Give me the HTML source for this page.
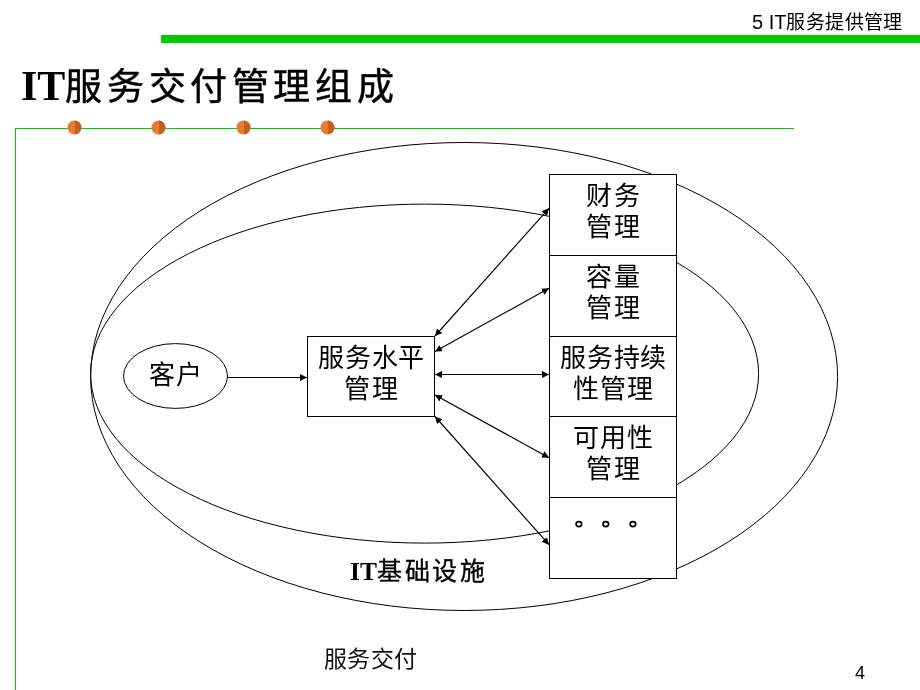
<!DOCTYPE html>
<html lang="zh-CN">
<head>
<meta charset="utf-8">
<style>
html,body{margin:0;padding:0;background:#fff;}
body{width:920px;height:690px;overflow:hidden;position:relative;-webkit-font-smoothing:antialiased;font-family:"Liberation Serif",serif;color:#000;}
svg{position:absolute;left:0;top:0;}
.t{position:absolute;white-space:nowrap;line-height:1;filter:grayscale(1);}
.hdr{font-family:"Liberation Sans",sans-serif;font-size:20px;left:752px;top:12px;}
.hdr .c{font-size:19px;letter-spacing:0.4px;font-weight:300;}
.title{font-family:"Liberation Serif",serif;font-weight:bold;font-size:42px;left:21px;top:65px;}
.title .c{font-size:37px;letter-spacing:4.6px;font-weight:500;-webkit-text-stroke:0.5px #000;}
.box{position:absolute;text-align:center;font-family:"Liberation Serif",serif;font-size:26px;line-height:31px;letter-spacing:1.35px;padding-left:1.35px;box-sizing:border-box;filter:grayscale(1);}
.infra{font-family:"Liberation Serif",serif;font-weight:bold;font-size:25.5px;left:350px;top:559px;}
.infra .c{font-size:25px;letter-spacing:2.7px;position:relative;top:0px;font-weight:500;-webkit-text-stroke:0.35px #000;}
.foot{font-family:"Liberation Sans",sans-serif;font-size:23px;letter-spacing:0.3px;left:324px;top:648px;color:#111;font-weight:300;}
.pg{font-family:"Liberation Sans",sans-serif;font-size:18px;left:855px;top:664px;}
</style>
</head>
<body>
<svg width="920" height="690" viewBox="0 0 920 690">
  <defs>
    <marker id="ah" viewBox="0 0 10 10" refX="10" refY="5" markerWidth="7" markerHeight="7" markerUnits="userSpaceOnUse" orient="auto-start-reverse">
      <path d="M0,0 L10,5 L0,10 z" fill="#000"/>
    </marker>
  </defs>
  <!-- header bar -->
  <rect x="161" y="35" width="759" height="8" fill="#00cc00"/>
  <!-- thin green frame -->
  <line x1="15" y1="128.5" x2="794" y2="128.5" stroke="#00cc00" stroke-width="1"/>
  <line x1="15.5" y1="128" x2="15.5" y2="690" stroke="#00cc00" stroke-width="1"/>
  <!-- orange dots -->
  <g id="dots">
    <g transform="translate(74.5,127.5)"><circle r="7" fill="#e97b2c"/><path d="M0.6,-6.97 A7,7 0 0 1 0.6,6.97 z" fill="#bd6123"/></g>
    <g transform="translate(158.5,127.5)"><circle r="7" fill="#e97b2c"/><path d="M0.6,-6.97 A7,7 0 0 1 0.6,6.97 z" fill="#bd6123"/></g>
    <g transform="translate(243.5,127.5)"><circle r="7" fill="#e97b2c"/><path d="M0.6,-6.97 A7,7 0 0 1 0.6,6.97 z" fill="#bd6123"/></g>
    <g transform="translate(327.5,127.5)"><circle r="7" fill="#e97b2c"/><path d="M0.6,-6.97 A7,7 0 0 1 0.6,6.97 z" fill="#bd6123"/></g>
  </g>
  <!-- big ellipses -->
  <ellipse cx="464.1" cy="376.5" rx="373.5" ry="234" fill="none" stroke="#000" stroke-width="1"/>
  <ellipse cx="424.6" cy="373.6" rx="334" ry="169.5" fill="none" stroke="#000" stroke-width="1"/>
  <!-- customer ellipse -->
  <ellipse cx="175.5" cy="376" rx="52" ry="32.4" fill="#fff" stroke="#000" stroke-width="1"/>
  <!-- arrow customer -> SLM -->
  <line x1="227.5" y1="377.5" x2="307" y2="377.5" stroke="#000" stroke-width="1" marker-end="url(#ah)"/>
  <!-- SLM box -->
  <rect x="307.5" y="336.5" width="127" height="80" fill="#fff" stroke="#000" stroke-width="1"/>
  <!-- right column -->
  <rect x="549.5" y="174.5" width="127" height="404" fill="#fff" stroke="#000" stroke-width="1"/>
  <line x1="549" y1="255.5" x2="677" y2="255.5" stroke="#000"/>
  <line x1="549" y1="336.5" x2="677" y2="336.5" stroke="#000"/>
  <line x1="549" y1="416.5" x2="677" y2="416.5" stroke="#000"/>
  <line x1="549" y1="497.5" x2="677" y2="497.5" stroke="#000"/>
  <!-- double arrows -->
  <g stroke="#000" stroke-width="1.15" marker-start="url(#ah)" marker-end="url(#ah)">
    <line x1="435" y1="336" x2="549" y2="208.3"/>
    <line x1="435" y1="351.6" x2="549" y2="288.3"/>
    <line x1="435" y1="374.5" x2="549" y2="374.5"/>
    <line x1="435" y1="395" x2="549" y2="457.7"/>
    <line x1="435" y1="416.5" x2="549" y2="544.7"/>
  </g>
  <!-- ellipsis circles -->
  <g fill="none" stroke="#000" stroke-width="1.7">
    <ellipse cx="578.9" cy="524.1" rx="2.8" ry="2.5"/>
    <ellipse cx="605.8" cy="524.1" rx="2.8" ry="2.5"/>
    <ellipse cx="632.9" cy="524.1" rx="2.8" ry="2.5"/>
  </g>
</svg>

<div class="t hdr">5 IT<span class="c">服务提供管理</span></div>
<div class="t title">IT<span class="c">服务交付管理组成</span></div>

<div class="t box" style="left:149px;top:360px;font-size:26px;letter-spacing:1px;padding:0;">客户</div>
<div class="box" style="left:307px;top:343px;width:128px;"><span style="letter-spacing:0.8px">服务水平</span><br>管理</div>

<div class="box" style="left:549px;top:181px;width:128px;">财务<br>管理</div>
<div class="box" style="left:549px;top:262px;width:128px;">容量<br>管理</div>
<div class="box" style="left:549px;top:343px;width:128px;"><span style="letter-spacing:0.8px">服务持续</span><br>性管理</div>
<div class="box" style="left:549px;top:423px;width:128px;">可用性<br>管理</div>

<div class="t infra">IT<span class="c">基础设施</span></div>
<div class="t foot">服务交付</div>
<div class="t pg">4</div>
</body>
</html>
